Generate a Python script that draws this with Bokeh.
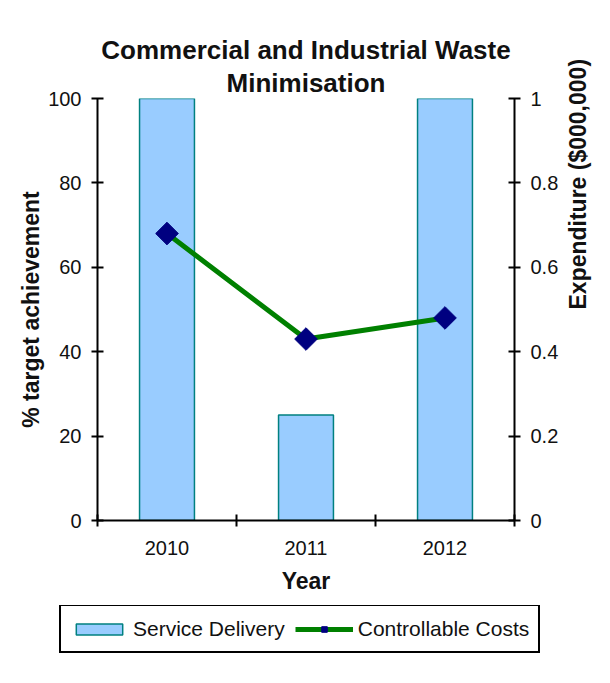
import math
from bokeh.plotting import figure
from bokeh.layouts import column
from bokeh.models import Range1d, LinearAxis, FixedTicker, Title, Legend, LegendItem
from bokeh.embed import file_html
from bokeh.resources import INLINE

years = ["2010", "2011", "2012"]
service_delivery = [100, 25, 100]
controllable_costs = [0.68, 0.43, 0.48]
left_ticks = [0, 20, 40, 60, 80, 100]
right_ticks = [0, 0.2, 0.4, 0.6, 0.8, 1]
right_tick_labels = ["0", "0.2", "0.4", "0.6", "0.8", "1"]

FONT = "Liberation Sans"
BAR_FILL, BAR_LINE = "#99CCFF", "#008080"
LINE_COLOR, MARK_COLOR = "#008000", "#000080"

xs = [i + 0.5 for i in range(len(years))]
boundaries = list(range(len(years) + 1))

p = figure(frame_width=417, frame_height=422, output_backend="svg",
           toolbar_location=None,
           x_range=Range1d(0, len(years)), y_range=Range1d(0, 100),
           min_border_left=97, min_border_right=96, min_border_top=98,
           min_border_bottom=85)
p.frame_align = False
p.title.visible = False
p.outline_line_color = None
p.xgrid.visible = False
p.ygrid.visible = False
p.background_fill_color = "white"
p.border_fill_color = "white"

p.extra_y_ranges = {"cost": Range1d(0, 1)}

p.vbar(x=xs, top=service_delivery, width=0.395, bottom=0,
       fill_color=BAR_FILL, line_color=BAR_LINE, line_width=1.5)
p.line(xs, controllable_costs, y_range_name="cost",
       line_color=LINE_COLOR, line_width=5)
p.scatter(xs, controllable_costs, y_range_name="cost", marker="square",
          size=16, angle=math.pi / 4, fill_color=MARK_COLOR, line_color=MARK_COLOR)

def style_axis(ax):
    ax.axis_line_color = "black"
    ax.axis_line_width = 2
    ax.major_tick_line_color = "black"
    ax.major_tick_line_width = 2
    ax.minor_tick_line_color = "black"
    ax.minor_tick_line_width = 2
    ax.major_label_text_font = FONT
    ax.major_label_text_font_size = "20px"
    ax.major_label_text_color = "#111111"
    ax.axis_label_text_font = FONT
    ax.axis_label_text_font_size = "23px"
    ax.axis_label_text_font_style = "bold"
    ax.axis_label_text_color = "#111111"

# x axis
xa = p.xaxis[0]
xa.ticker = FixedTicker(ticks=xs, minor_ticks=boundaries)
xa.major_label_overrides = {x: y for x, y in zip(xs, years)}
xa.major_tick_in = 0
xa.major_tick_out = 0
xa.minor_tick_in = 6
xa.minor_tick_out = 6
xa.axis_label = "Year"
style_axis(xa)
xa.major_label_standoff = 14
xa.axis_label_standoff = 10

# left axis
ya = p.yaxis[0]
ya.ticker = FixedTicker(ticks=left_ticks)
ya.major_tick_in = 6
ya.major_tick_out = 6
ya.minor_tick_in = 0
ya.minor_tick_out = 0
ya.axis_label = "% target achievement"
style_axis(ya)
ya.major_label_standoff = 10
ya.axis_label_standoff = 1

# right axis
ra = LinearAxis(y_range_name="cost", ticker=FixedTicker(ticks=right_ticks),
                major_label_overrides=dict(zip(right_ticks, right_tick_labels)),
                axis_label="Expenditure ($000,000)")
style_axis(ra)
ra.major_tick_in = 6
ra.major_tick_out = 6
ra.minor_tick_in = 0
ra.minor_tick_out = 0
ra.major_label_standoff = 10
ra.axis_label_standoff = 17
ra.axis_label_orientation = math.pi / 2
p.add_layout(ra, "right")

# titles
t2 = Title(text="Minimisation", align="center", text_font=FONT,
           text_font_size="26px", text_font_style="bold", text_color="#111111",
           standoff=2)
t1 = Title(text="Commercial and Industrial Waste", align="center", text_font=FONT,
           text_font_size="26px", text_font_style="bold", text_color="#111111",
           standoff=0)
p.add_layout(t2, "above")
p.add_layout(t1, "above")

# legend strip (separate small figure so the legend is not clipped)
lg = figure(width=610, height=78, output_backend="svg", toolbar_location=None,
            x_axis_type=None, y_axis_type=None, min_border=0,
            min_border_left=0, min_border_right=0, min_border_top=0,
            min_border_bottom=0,
            x_range=Range1d(0, len(years)), y_range=Range1d(0, 100))
lg.frame_align = False
lg.title.visible = False
lg.outline_line_color = None
lg.background_fill_color = "white"
lg.border_fill_color = "white"
lg.extra_y_ranges = {"cost": Range1d(0, 1)}
lb = lg.vbar(x=xs, top=service_delivery, width=0.395, bottom=0,
             fill_color=BAR_FILL, line_color=BAR_LINE, line_width=1.5, visible=False)
ll = lg.line(xs, controllable_costs, y_range_name="cost",
             line_color=LINE_COLOR, line_width=5, visible=False)
lm = lg.scatter(xs, controllable_costs, y_range_name="cost", marker="square",
                size=16, angle=math.pi / 4, fill_color=MARK_COLOR,
                line_color=MARK_COLOR, visible=False)

legend = Legend(items=[LegendItem(label="Service Delivery", renderers=[lb]),
                       LegendItem(label="Controllable Costs", renderers=[ll, lm])],
                orientation="horizontal", location=(59, 30),
                border_line_color="black", border_line_width=2,
                border_line_alpha=1.0,
                label_text_font=FONT, label_text_font_size="21px",
                label_text_color="#111111", label_height=27,
                glyph_width=58, glyph_height=14, padding=9, spacing=10,
                label_standoff=5, margin=0, inactive_fill_alpha=0)
lg.add_layout(legend)

layout = column(p, lg, spacing=0)
open("out.html", "w").write(file_html(layout, INLINE))
